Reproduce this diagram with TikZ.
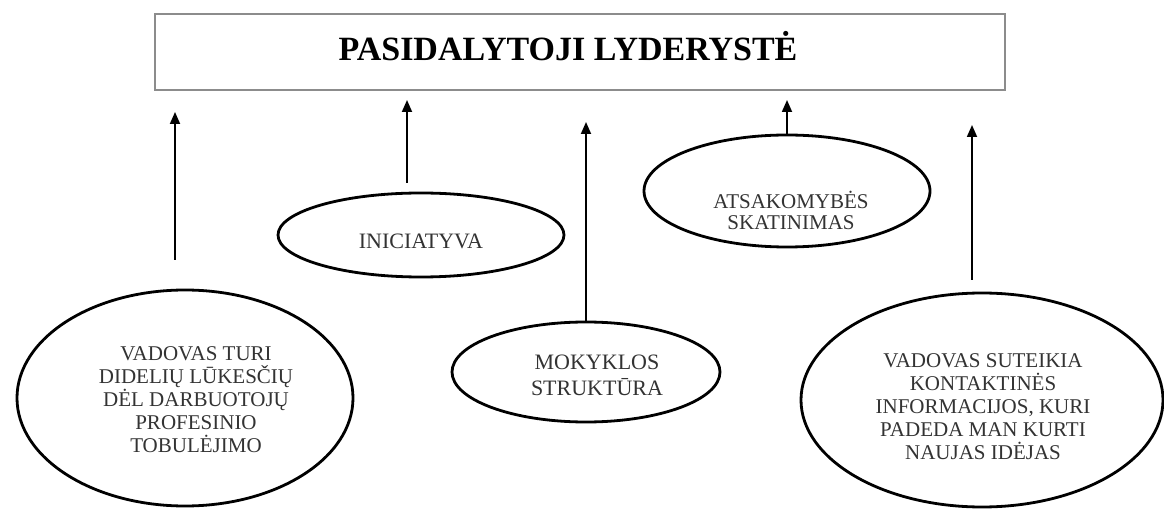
\documentclass[tikz,border=0pt]{standalone}
\usepackage{fontspec}
\setmainfont{Liberation Serif}
\usetikzlibrary{shapes.geometric,arrows.meta}
\begin{document}
\begin{tikzpicture}[x=1pt,y=-1pt,
 oval/.style={draw=black, line width=2.8pt, ellipse, inner sep=0pt},
 lbl/.style={align=center, font=\fontsize{21}{23}\selectfont, text=black!80, inner sep=0pt},
 uparrow/.style={line width=1.8pt, -{Triangle[length=12pt,width=10pt]}}]
\useasboundingbox (0,0) rectangle (1164,510);
\fill[white] (0,0) rectangle (1164,510);
% title
\node[draw=black!45, line width=1.5pt, minimum width=850pt, minimum height=76pt, inner sep=0pt] (title) at (580,52) {};
\node[font=\fontsize{34}{36}\selectfont\bfseries, inner sep=0pt] (tt) at (568,46) {PASIDALYTOJI LYDERYSTĖ};
% ellipses
\node[oval, minimum width=336pt, minimum height=216pt] (e1) at (185,398) {};
\node[lbl] (t1) at (196,400) {VADOVAS TURI\\DIDELIŲ LŪKESČIŲ\\DĖL DARBUOTOJŲ\\PROFESINIO\\TOBULĖJIMO};
\node[oval, minimum width=286pt, minimum height=84pt] (e2) at (421,235) {};
\node[lbl, font=\fontsize{22}{24}\selectfont] (t2) at (421,241) {INICIATYVA};
\node[oval, minimum width=268pt, minimum height=100pt] (e3) at (586,372) {};
\node[lbl, font=\fontsize{22}{26}\selectfont] (t3) at (597,375) {MOKYKLOS\\STRUKTŪRA};
\node[oval, minimum width=286pt, minimum height=112pt] (e4) at (787,191) {};
\node[lbl, font=\fontsize{21}{21}\selectfont] (t4) at (791,210) {ATSAKOMYBĖS\\SKATINIMAS};
\node[oval, minimum width=362pt, minimum height=214pt] (e5) at (982,400) {};
\node[lbl] (t5) at (983,407) {VADOVAS SUTEIKIA\\KONTAKTINĖS\\INFORMACIJOS, KURI\\PADEDA MAN KURTI\\NAUJAS IDĖJAS};
% arrow ends
\coordinate (a1s) at (175,260); \coordinate (a1e) at (175,112);
\coordinate (a2s) at (407,183); \coordinate (a2e) at (407,100);
\coordinate (a3e) at (586,122);
\coordinate (a4e) at (787,100);
\coordinate (a5s) at (972,280); \coordinate (a5e) at (972,125);
\draw[uparrow] (a1s) -- (a1e);
\draw[uparrow] (a2s) -- (a2e);
\draw[uparrow] (e3.north) -- (a3e);
\draw[uparrow] (e4.north) -- (a4e);
\draw[uparrow] (a5s) -- (a5e);
\end{tikzpicture}
\end{document}
